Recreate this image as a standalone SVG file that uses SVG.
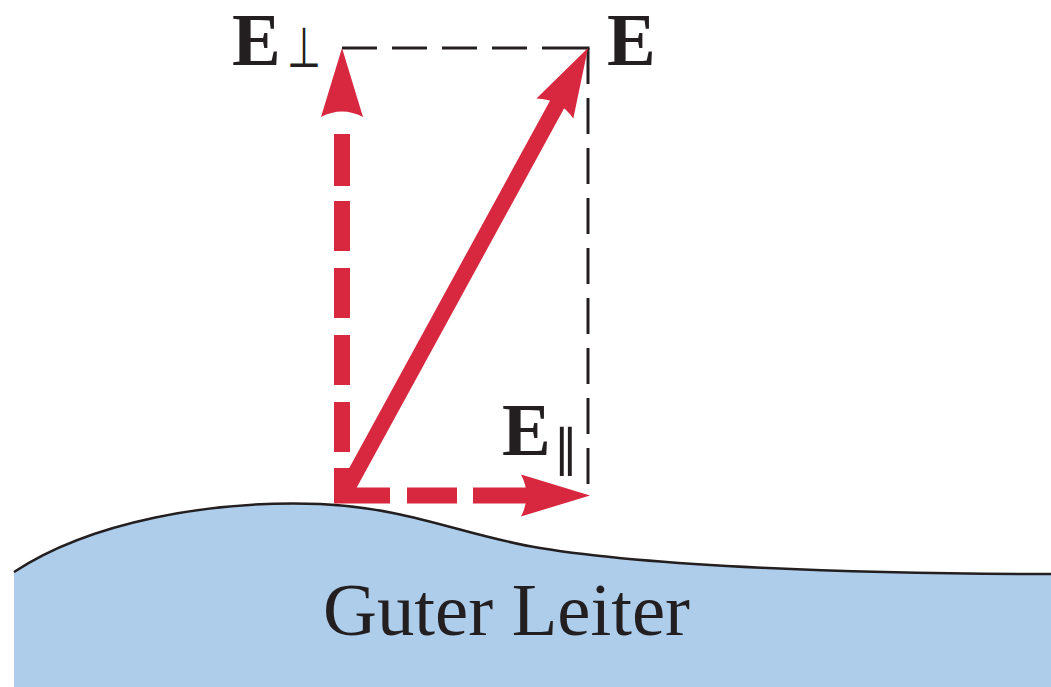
<svg xmlns="http://www.w3.org/2000/svg" width="1051" height="687" viewBox="0 0 1051 687">
  <style>
    .vec { stroke: #d7283f; stroke-width: 16; fill: none; stroke-linecap: butt; }
    .guide { stroke: #231f20; stroke-width: 3; fill: none; }
    .lbl { font-family: "Liberation Serif", "Times New Roman", serif; font-weight: bold; font-size: 73px; fill: #231f20; }
    .sub { font-family: "DejaVu Sans", sans-serif; fill: #231f20; }
    .cond { font-family: "Liberation Serif", "Times New Roman", serif; font-size: 75px; fill: #231f20; }
  </style>
  <defs>
    <marker id="head" markerUnits="userSpaceOnUse" viewBox="-20 -30 100 60" markerWidth="100" markerHeight="60" refX="0" refY="0" orient="auto" overflow="visible">
      <path d="M60,0 L-9,-21 Q2,0 -9,21 Z" fill="#d7283f"/>
    </marker>
  </defs>
  <rect width="1051" height="687" fill="#ffffff"/>

  <g id="conductor">
    <path d="M14,572 C90,522 210,500 320,504 C410,508 465,536 540,548 C650,566 850,574 1051,574 L1051,687 L14,687 Z" fill="#aecdeb"/>
    <path d="M14,572 C90,522 210,500 320,504 C410,508 465,536 540,548 C650,566 850,574 1051,574" fill="none" stroke="#231f20" stroke-width="2.5"/>
    <text class="cond" x="323" y="635" textLength="367" lengthAdjust="spacingAndGlyphs">Guter Leiter</text>
  </g>

  <g id="connectors">
    <line class="guide" x1="342" y1="48" x2="377" y2="48"/>
    <line class="guide" x1="392" y1="48" x2="427" y2="48"/>
    <line class="guide" x1="442" y1="48" x2="477" y2="48"/>
    <line class="guide" x1="492" y1="48" x2="527" y2="48"/>
    <line class="guide" x1="542" y1="48" x2="589.5" y2="48"/>
    <line class="guide" x1="588" y1="48" x2="588" y2="484" stroke-dasharray="36 14"/>
    <line class="vec" x1="342" y1="503" x2="342" y2="108" stroke-dasharray="35 16 50 17 50 17 50 17 50 15 52 100" marker-end="url(#head)"/>
    <line class="vec" x1="334" y1="495.5" x2="530" y2="495.5" stroke-dasharray="56 17 50 16 80" marker-end="url(#head)"/>
    <line class="vec" x1="343" y1="496" x2="559.2" y2="100.6" marker-end="url(#head)"/>
  </g>

  <g id="label-E">
    <text class="lbl" x="607" y="65">E</text>
  </g>
  <g id="label-E-perp">
    <text class="lbl" x="232" y="65">E</text>
    <text class="sub" x="287" y="67" font-size="56" textLength="34" lengthAdjust="spacingAndGlyphs">⊥</text>
  </g>
  <g id="label-E-par">
    <text class="lbl" x="502" y="455">E</text>
    <text class="sub" x="553" y="465" font-size="50">∥</text>
  </g>
</svg>
